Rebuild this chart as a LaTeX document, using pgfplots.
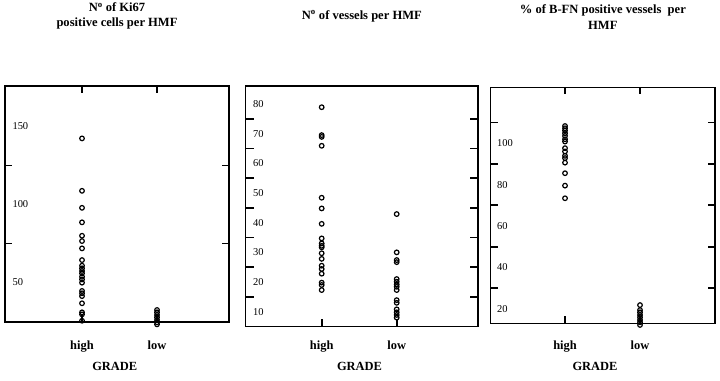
\documentclass[border=0pt]{standalone}
\usepackage{fontspec}
\setmainfont{Liberation Serif}
\usepackage{pgfplots}
\pgfplotsset{compat=1.18}
\pgfplotsset{
 grade/.style={
  scale only axis, clip=false,
  axis line style={line width=1.2bp},
  xtick={0,1}, xticklabels={high,low},
  xticklabel style={font=\bfseries\fontsize{12.5}{14}\selectfont},
  major tick style={line width=1.7bp, black},
  major tick length=7bp,
  yticklabels={},
  /pgf/number format/assume math mode=true,
  title style={font=\bfseries\fontsize{12.6}{15.5}\selectfont, align=center, anchor=center, at={(axis description cs:0.5,1)}},
  xlabel=GRADE,
  xlabel style={font=\bfseries\fontsize{12.5}{14}\selectfont, anchor=center},
 },
 pts/.style={only marks, mark=o, mark size=2.3bp, mark options={line width=1.2bp, black}, black}
}
\begin{document}
\begin{tikzpicture}
\useasboundingbox (0,0) rectangle (720bp,381bp);
% Panel 1
\begin{axis}[grade, at={(5bp,59bp)}, anchor=south west,
  width=224bp, height=236bp,
  xmin=-1.027, xmax=1.96, ymin=24.7, ymax=176,
  ytick={75,125},
  extra y ticks={50,100,150}, extra y tick labels={50,100,150},
  extra y tick style={major tick length=0pt, yticklabel style={anchor=west, xshift=4bp, font=\fontsize{10.5}{12}\selectfont}},
  xticklabel style={yshift=-15bp},
  xlabel style={at={(axis description cs:0.49,0)}, yshift=-44bp},
  title={N\textsuperscript{o} of Ki67\\positive cells per HMF},
  title style={yshift=64bp}]
\addplot[pts] coordinates {(0,142.4)(0,108.8)(0,97.9)(0,88.6)(0,80.0)(0,76.6)(0,71.9)(0,64.4)(0,60.8)(0,59.1)(0,57.4)(0,55.9)(0,53.7)(0,52.0)(0,49.9)(0,44.6)(0,43.1)(0,41.3)(0,36.7)(0,30.9)(0,29.6)(0,25.5)};
\addplot[pts] coordinates {(1,32.4)(1,30.9)(1,29.2)(1,27.7)(1,26.0)(1,24.5)(1,23.2)};
\end{axis}
% Panel 2
\begin{axis}[grade, at={(245.7bp,54.3bp)}, anchor=south west,
  width=232.3bp, height=240.7bp,
  xmin=-1.013, xmax=2.084, ymin=4.95, ymax=86.05,
  xtick pos=bottom, major tick length=8bp,
  ytick={15,25,35,45,55,65,75},
  extra y ticks={10,20,30,40,50,60,70,80}, extra y tick labels={10,20,30,40,50,60,70,80},
  extra y tick style={major tick length=0pt, yticklabel style={anchor=west, xshift=4bp, font=\fontsize{10.5}{12}\selectfont}},
  xticklabel style={yshift=-10.5bp},
  xlabel style={at={(axis description cs:0.49,0)}, yshift=-39.3bp},
  title={N\textsuperscript{o} of vessels per HMF},
  title style={yshift=64bp}]
\addplot[pts] coordinates {(0,78.9)(0,69.5)(0,68.9)(0,65.9)(0,48.4)(0,44.8)(0,39.6)(0,34.7)(0,33.0)(0,32.2)(0,31.7)(0,29.7)(0,27.8)(0,25.5)(0,24.4)(0,22.8)(0,19.8)(0,19.0)(0,17.3)};
\addplot[pts] coordinates {(1,42.9)(1,30.0)(1,27.4)(1,26.7)(1,21.0)(1,20.1)(1,19.2)(1,18.4)(1,17.3)(1,13.9)(1,13.0)(1,10.8)(1,9.8)(1,8.9)(1,8.0)};
\end{axis}
% Panel 3
\begin{axis}[grade, at={(490.7bp,57.7bp)}, anchor=south west,
  width=224.3bp, height=236bp,
  xmin=-0.991, xmax=2.0, ymin=13.0, ymax=127.0,
  ytick={30,50,70,90,110},
  extra y ticks={20,40,60,80,100}, extra y tick labels={20,40,60,80,100},
  extra y tick style={major tick length=0pt, yticklabel style={anchor=west, xshift=3bp, font=\fontsize{10.5}{12}\selectfont}},
  xticklabel style={yshift=-14bp},
  xlabel style={at={(axis description cs:0.465,0)}, yshift=-42.7bp},
  title={\% of B-FN positive vessels\ \ per\\HMF},
  title style={yshift=64.3bp}]
\addplot[pts] coordinates {(0,108.3)(0,107.2)(0,106.1)(0,104.8)(0,103.5)(0,101.9)(0,100.8)(0,97.6)(0,96.0)(0,93.9)(0,92.8)(0,90.6)(0,85.5)(0,79.5)(0,73.4)};
\addplot[pts] coordinates {(1,21.8)(1,19.4)(1,18.3)(1,17.0)(1,15.9)(1,14.6)(1,13.5)(1,12.2)};
\end{axis}
\end{tikzpicture}
\end{document}
